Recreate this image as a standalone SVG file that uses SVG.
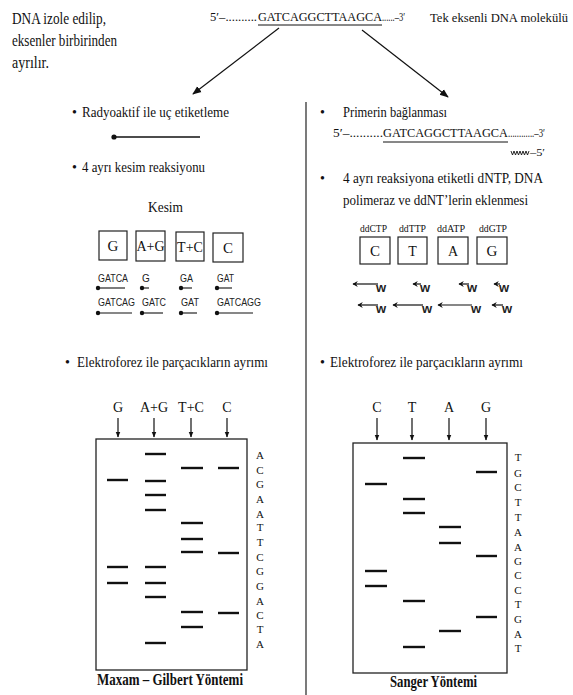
<svg xmlns="http://www.w3.org/2000/svg" width="573" height="695" viewBox="0 0 573 695">
<style>
.t{font-family:"Liberation Serif","Times New Roman",serif;fill:#111}
.s{font-family:"Liberation Sans",Arial,sans-serif;fill:#222}
.ln{stroke:#111;stroke-width:1.2;fill:none}
.bx{stroke:#222;stroke-width:1.2;fill:#fff}
.bd{stroke:#111;stroke-width:2.4}
.fr{stroke:#111;stroke-width:1.1}
.gel{stroke:#222;stroke-width:1.3;fill:#fff}
</style>
<defs>
<marker id="ah" viewBox="0 0 10 10" refX="9" refY="5" markerWidth="9" markerHeight="9" orient="auto" markerUnits="userSpaceOnUse"><path d="M0,1 L10,5 L0,9 z" fill="#111"/></marker>
<marker id="ahs" viewBox="0 0 10 10" refX="9" refY="5" markerWidth="6" markerHeight="6" orient="auto" markerUnits="userSpaceOnUse"><path d="M0,1 L10,5 L0,9 z" fill="#111"/></marker>
<marker id="ahw" viewBox="0 0 10 10" refX="9" refY="5" markerWidth="6" markerHeight="7" orient="auto" markerUnits="userSpaceOnUse"><path d="M1,0 L10,5 L1,10 L4,5 z" fill="#111"/></marker>
</defs>
<rect width="573" height="695" fill="#fff"/>

<g id="note-isolation">
<text class="t" x="12" y="24" font-size="16" textLength="94" lengthAdjust="spacingAndGlyphs">DNA izole edilip,</text>
<text class="t" x="12" y="46" font-size="16" textLength="105" lengthAdjust="spacingAndGlyphs">eksenler birbirinden</text>
<text class="t" x="12" y="68" font-size="16" textLength="37" lengthAdjust="spacingAndGlyphs">ayrılır.</text>
</g>

<g id="dna-molecule">
<text class="t" x="210" y="21" font-size="12" textLength="47" lengthAdjust="spacingAndGlyphs">5′–..........</text>
<text class="t" x="258" y="21" font-size="12" textLength="124" lengthAdjust="spacingAndGlyphs">GATCAGGCTTAAGCA</text>
<text class="t" x="382" y="21" font-size="12" textLength="23" lengthAdjust="spacingAndGlyphs">......–3′</text>
<line x1="258" y1="25" x2="382" y2="25" stroke="#111" stroke-width="1"/>
<text class="t" x="430" y="22" font-size="13" textLength="138" lengthAdjust="spacingAndGlyphs">Tek eksenli DNA molekülü</text>
</g>

<g id="connectors">
<line class="ln" x1="279" y1="28" x2="193" y2="94" marker-end="url(#ah)"/>
<line class="ln" x1="362" y1="30" x2="448" y2="97" marker-end="url(#ah)"/>
<line x1="306" y1="102" x2="306" y2="695" stroke="#333" stroke-width="1.3"/>
</g>

<g id="maxam-steps">
<text class="t" x="72" y="117" font-size="14">•</text>
<text class="t" x="82" y="117" font-size="15" textLength="147" lengthAdjust="spacingAndGlyphs">Radyoaktif ile uç etiketleme</text>
<circle cx="114" cy="137" r="2.6" fill="#111"/>
<line x1="114" y1="137" x2="200" y2="137" stroke="#111" stroke-width="1.4"/>
<text class="t" x="72" y="172" font-size="14">•</text>
<text class="t" x="82" y="172" font-size="15" textLength="123" lengthAdjust="spacingAndGlyphs">4 ayrı kesim reaksiyonu</text>
<text class="t" x="148" y="212" font-size="15" textLength="35" lengthAdjust="spacingAndGlyphs">Kesim</text>
</g>

<g id="maxam-cleavage">
<rect class="bx" x="99" y="231" width="28" height="29"/>
<rect class="bx" x="136" y="231" width="29" height="30"/>
<rect class="bx" x="176" y="232" width="28" height="29"/>
<rect class="bx" x="213" y="233" width="30" height="29"/>
<text class="t" x="113" y="251" font-size="15" text-anchor="middle">G</text>
<text class="t" x="150.5" y="251" font-size="14" text-anchor="middle">A+G</text>
<text class="t" x="190" y="252" font-size="14" text-anchor="middle">T+C</text>
<text class="t" x="228" y="253" font-size="15" text-anchor="middle">C</text>
<g class="s" font-size="10">
<text x="98" y="282" textLength="30" lengthAdjust="spacingAndGlyphs">GATCA</text>
<text x="142" y="282">G</text>
<text x="180" y="282" textLength="13" lengthAdjust="spacingAndGlyphs">GA</text>
<text x="217" y="282" textLength="17" lengthAdjust="spacingAndGlyphs">GAT</text>
<text x="98" y="306" textLength="37" lengthAdjust="spacingAndGlyphs">GATCAG</text>
<text x="142" y="306" textLength="24" lengthAdjust="spacingAndGlyphs">GATC</text>
<text x="181" y="306" textLength="18" lengthAdjust="spacingAndGlyphs">GAT</text>
<text x="217" y="306" textLength="44" lengthAdjust="spacingAndGlyphs">GATCAGG</text>
</g>
<g fill="#111">
<circle cx="98" cy="288" r="2.2"/><circle cx="142" cy="288" r="2.2"/><circle cx="181" cy="288" r="2.2"/><circle cx="217" cy="288" r="2.2"/>
<circle cx="98" cy="313" r="2.2"/><circle cx="142" cy="313" r="2.2"/><circle cx="181" cy="313" r="2.2"/><circle cx="217" cy="313" r="2.2"/>
</g>
<g class="fr">
<line x1="98" y1="288" x2="125" y2="288"/><line x1="142" y1="288" x2="149" y2="288"/><line x1="181" y1="288" x2="192" y2="288"/><line x1="217" y1="288" x2="232" y2="288"/>
<line x1="98" y1="313" x2="132" y2="313"/><line x1="142" y1="313" x2="163" y2="313"/><line x1="181" y1="313" x2="197" y2="313"/><line x1="217" y1="313" x2="253" y2="313"/>
</g>
</g>

<g id="sanger-steps">
<text class="t" x="320" y="117" font-size="14">•</text>
<text class="t" x="343" y="117" font-size="15" textLength="104" lengthAdjust="spacingAndGlyphs">Primerin bağlanması</text>
<text class="t" x="333" y="137" font-size="12" textLength="50" lengthAdjust="spacingAndGlyphs">5′–..........</text>
<text class="t" x="383" y="137" font-size="12" textLength="125" lengthAdjust="spacingAndGlyphs">GATCAGGCTTAAGCA</text>
<text class="t" x="508" y="137" font-size="12" textLength="37" lengthAdjust="spacingAndGlyphs">............–3′</text>
<line x1="383" y1="142" x2="508" y2="142" stroke="#111" stroke-width="1"/>
<path d="M511,151 l1.5,4 1.5,-4 1.5,4 1.5,-4 1.5,4 1.5,-4 1.5,4 1.5,-4 1.5,4 1.5,-4 1.5,4 1.5,-4" fill="none" stroke="#111" stroke-width="0.9"/>
<text class="t" x="530" y="156" font-size="11" textLength="15" lengthAdjust="spacingAndGlyphs">–5′</text>
<text class="t" x="320" y="183" font-size="14">•</text>
<text class="t" x="343" y="183" font-size="15" textLength="200" lengthAdjust="spacingAndGlyphs">4 ayrı reaksiyona etiketli dNTP,  DNA</text>
<text class="t" x="343" y="205" font-size="15" textLength="185" lengthAdjust="spacingAndGlyphs">polimeraz ve ddNT’lerin eklenmesi</text>
</g>

<g id="sanger-reactions">
<g class="t" font-size="9.5">
<text x="360" y="232" textLength="27" lengthAdjust="spacingAndGlyphs">ddCTP</text>
<text x="399" y="232" textLength="27" lengthAdjust="spacingAndGlyphs">ddTTP</text>
<text x="437" y="232" textLength="28" lengthAdjust="spacingAndGlyphs">ddATP</text>
<text x="479" y="232" textLength="28" lengthAdjust="spacingAndGlyphs">ddGTP</text>
</g>
<rect class="bx" x="360" y="237" width="30" height="27"/>
<rect class="bx" x="398" y="237" width="29" height="27"/>
<rect class="bx" x="438" y="237" width="30" height="27"/>
<rect class="bx" x="477" y="237" width="30" height="27"/>
<text class="t" x="375" y="256" font-size="15" text-anchor="middle">C</text>
<text class="t" x="412.5" y="256" font-size="14" text-anchor="middle">T</text>
<text class="t" x="453" y="256" font-size="14" text-anchor="middle">A</text>
<text class="t" x="492" y="256" font-size="15" text-anchor="middle">G</text>
<g class="ln" stroke-width="1.4">
<path d="M378,284 L353,284" marker-end="url(#ahw)"/>
<path d="M421,284 L413,284" marker-end="url(#ahw)"/>
<path d="M469,284 L459,284" marker-end="url(#ahw)"/>
<path d="M500,284 L494,284" marker-end="url(#ahw)"/>
<path d="M378,305 L358,305" marker-end="url(#ahw)"/>
<path d="M423,305 L393,305" marker-end="url(#ahw)"/>
<path d="M472,305 L438,305" marker-end="url(#ahw)"/>
<path d="M503,305 L492,305" marker-end="url(#ahw)"/>
</g>
<g class="s" font-size="13" font-weight="bold">
<text x="376" y="292">w</text>
<text x="420" y="292">w</text>
<text x="467" y="292">w</text>
<text x="499" y="292">w</text>
<text x="376" y="313">w</text>
<text x="422" y="313">w</text>
<text x="471" y="313">w</text>
<text x="502" y="313">w</text>
</g>
</g>

<g id="maxam-gel">
<text class="t" x="65" y="367" font-size="14">•</text>
<text class="t" x="77" y="367" font-size="15" textLength="191" lengthAdjust="spacingAndGlyphs">Elektroforez ile parçacıkların  ayrımı</text>
<g class="t" font-size="14" text-anchor="middle">
<text x="118" y="412">G</text><text x="154" y="412">A+G</text><text x="191" y="412">T+C</text><text x="227" y="412">C</text>
</g>
<g class="ln">
<line x1="118" y1="418" x2="118" y2="437" marker-end="url(#ahs)"/>
<line x1="154" y1="418" x2="154" y2="437" marker-end="url(#ahs)"/>
<line x1="191" y1="418" x2="191" y2="437" marker-end="url(#ahs)"/>
<line x1="227" y1="418" x2="227" y2="437" marker-end="url(#ahs)"/>
</g>
<rect class="gel" x="96" y="439" width="151" height="231"/>
<g class="bd">
<line x1="107" y1="480" x2="128" y2="480"/><line x1="107" y1="567" x2="128" y2="567"/><line x1="107" y1="583" x2="128" y2="583"/>
<line x1="145" y1="454" x2="166" y2="454"/><line x1="145" y1="481" x2="166" y2="481"/><line x1="145" y1="495" x2="166" y2="495"/><line x1="145" y1="510" x2="166" y2="510"/><line x1="145" y1="567" x2="166" y2="567"/><line x1="145" y1="583" x2="166" y2="583"/><line x1="145" y1="597" x2="166" y2="597"/><line x1="145" y1="643" x2="166" y2="643"/>
<line x1="181" y1="468" x2="203" y2="468"/><line x1="181" y1="523" x2="203" y2="523"/><line x1="181" y1="539" x2="203" y2="539"/><line x1="181" y1="552" x2="203" y2="552"/><line x1="181" y1="612" x2="203" y2="612"/><line x1="181" y1="627" x2="203" y2="627"/>
<line x1="218" y1="468" x2="239" y2="468"/><line x1="218" y1="553" x2="239" y2="553"/><line x1="218" y1="613" x2="239" y2="613"/>
</g>
<g class="t" font-size="11" text-anchor="middle">
<text x="260" y="459">A</text><text x="260" y="474">C</text><text x="260" y="488">G</text><text x="260" y="503">A</text><text x="260" y="518">A</text><text x="260" y="531">T</text><text x="260" y="546">T</text><text x="260" y="561">C</text><text x="260" y="575">G</text><text x="260" y="590">G</text><text x="260" y="605">A</text><text x="260" y="619">C</text><text x="260" y="633">T</text><text x="260" y="648">A</text>
</g>
<text class="t" x="97" y="685" font-size="17" font-weight="bold" textLength="146" lengthAdjust="spacingAndGlyphs">Maxam – Gilbert Yöntemi</text>
</g>

<g id="sanger-gel">
<text class="t" x="320" y="367" font-size="14">•</text>
<text class="t" x="330" y="367" font-size="15" textLength="193" lengthAdjust="spacingAndGlyphs">Elektroforez ile parçacıkların  ayrımı</text>
<g class="t" font-size="14" text-anchor="middle">
<text x="377" y="412">C</text><text x="412" y="412">T</text><text x="449" y="412">A</text><text x="486" y="412">G</text>
</g>
<g class="ln">
<line x1="377" y1="418" x2="377" y2="440" marker-end="url(#ahs)"/>
<line x1="412" y1="418" x2="412" y2="440" marker-end="url(#ahs)"/>
<line x1="449" y1="418" x2="449" y2="440" marker-end="url(#ahs)"/>
<line x1="486" y1="418" x2="486" y2="440" marker-end="url(#ahs)"/>
</g>
<rect class="gel" x="353" y="443" width="154" height="230"/>
<g class="bd">
<line x1="365" y1="484" x2="387" y2="484"/><line x1="365" y1="571" x2="387" y2="571"/><line x1="365" y1="586" x2="387" y2="586"/>
<line x1="403" y1="458" x2="425" y2="458"/><line x1="403" y1="499" x2="425" y2="499"/><line x1="403" y1="513" x2="425" y2="513"/><line x1="403" y1="601" x2="425" y2="601"/><line x1="403" y1="647" x2="425" y2="647"/>
<line x1="439" y1="527" x2="461" y2="527"/><line x1="439" y1="543" x2="461" y2="543"/><line x1="439" y1="631" x2="461" y2="631"/>
<line x1="476" y1="472" x2="497" y2="472"/><line x1="476" y1="556" x2="497" y2="556"/><line x1="476" y1="617" x2="497" y2="617"/>
</g>
<g class="t" font-size="11" text-anchor="middle">
<text x="518" y="461">T</text><text x="518" y="477">G</text><text x="518" y="491">C</text><text x="518" y="506">T</text><text x="518" y="521">T</text><text x="518" y="536">A</text><text x="518" y="551">A</text><text x="518" y="565">G</text><text x="518" y="579">C</text><text x="518" y="594">C</text><text x="518" y="608">T</text><text x="518" y="623">G</text><text x="518" y="638">A</text><text x="518" y="652">T</text>
</g>
<text class="t" x="390" y="687" font-size="17" font-weight="bold" textLength="87" lengthAdjust="spacingAndGlyphs">Sanger Yöntemi</text>
</g>
</svg>
